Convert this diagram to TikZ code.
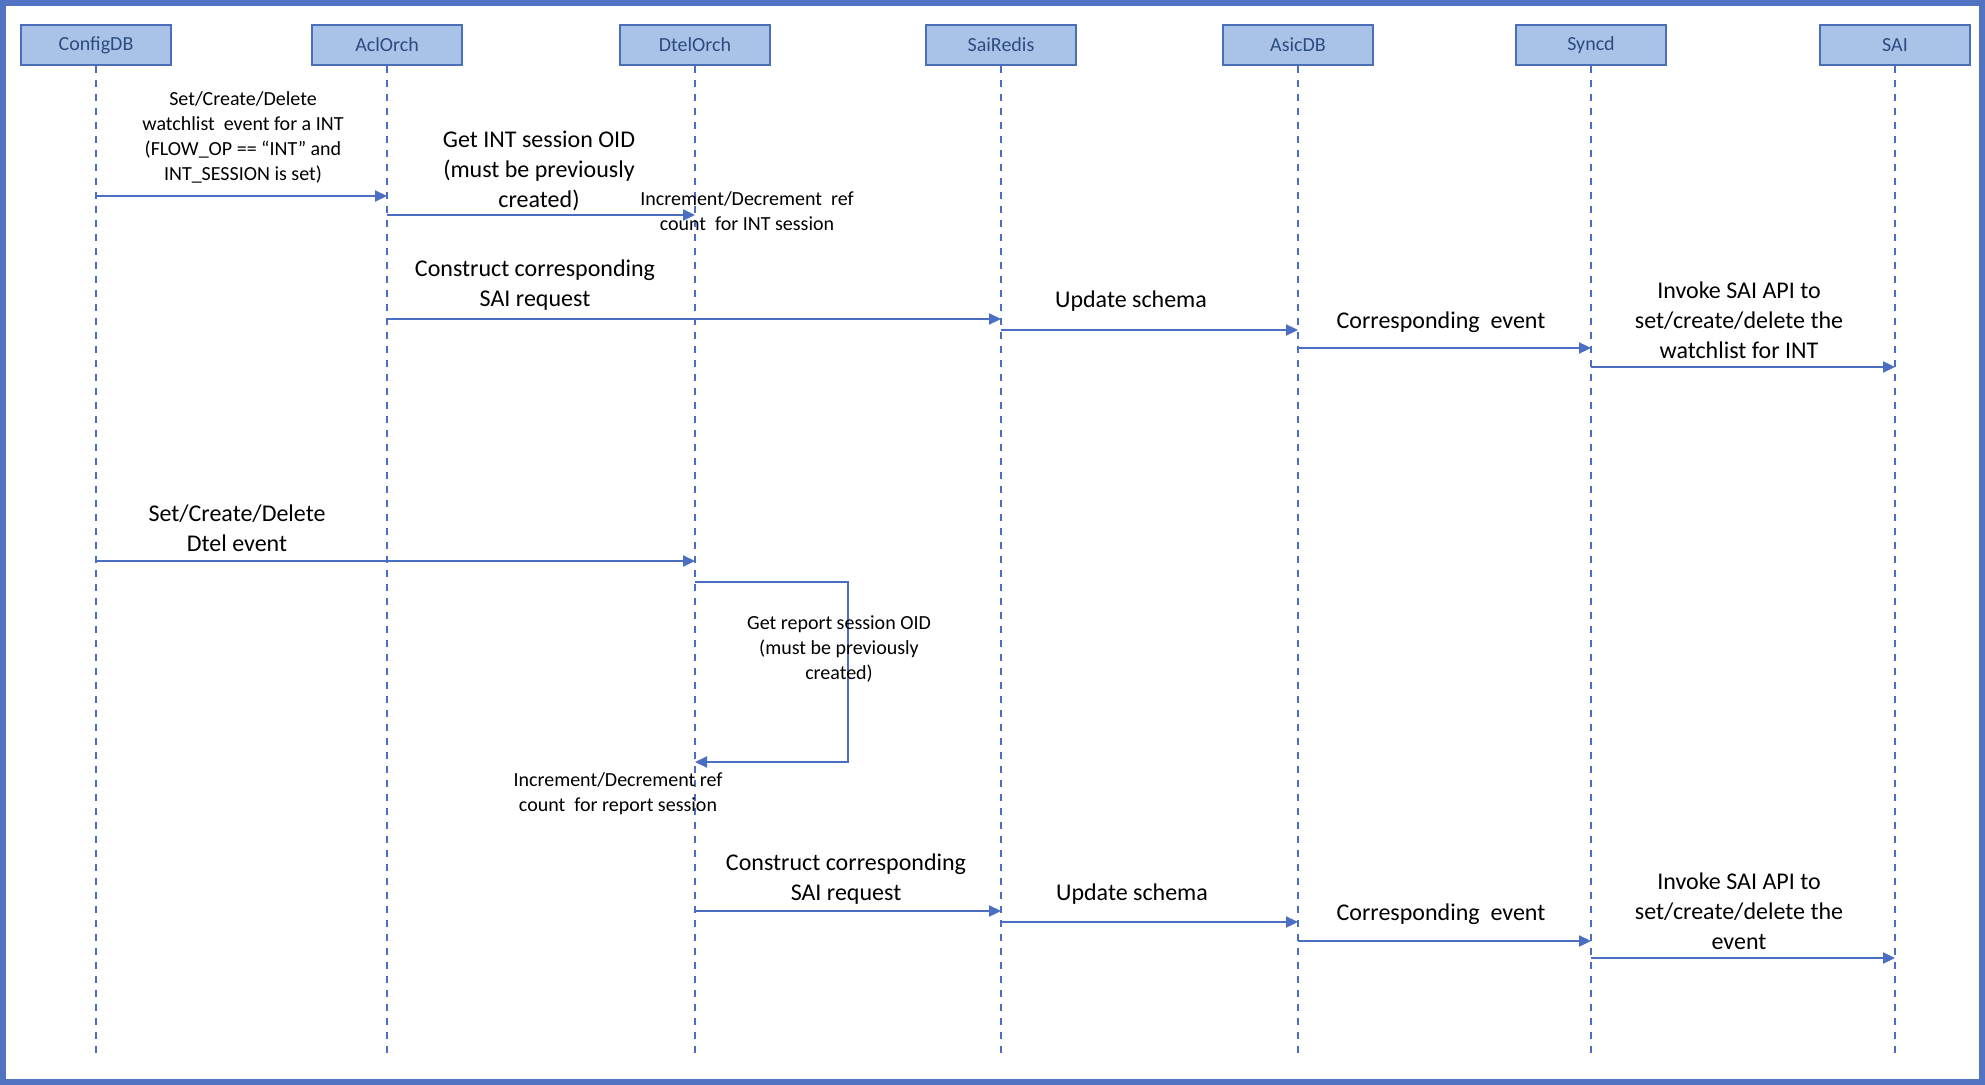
\documentclass[tikz,border=0pt]{standalone}
\usepackage{fontspec}
\setmainfont{Carlito}
\usetikzlibrary{arrows.meta}
\definecolor{frameblue}{HTML}{5273C2}
\definecolor{boxfill}{HTML}{A9C3E8}
\definecolor{boxline}{HTML}{4A6EB8}
\definecolor{boxtext}{HTML}{2C4C80}
\definecolor{lineblue}{HTML}{4A6FC2}
\tikzset{
        actor/.style={draw=boxline, fill=boxfill, line width=0.8pt, minimum width=75pt, minimum height=20pt, inner sep=0pt, text=boxtext, font=\fontsize{10}{12}\selectfont},
        life/.style={draw=lineblue, line width=0.7pt, dash pattern=on 3.5pt off 3.5pt},
        msg/.style={draw=lineblue, line width=1.1pt, -{Triangle[length=6pt,width=5.5pt]}},
        small/.style={align=center, inner sep=0pt, font=\fontsize{10}{12.5}\selectfont},
        big/.style={align=center, inner sep=0pt, font=\fontsize{12}{15}\selectfont}
}
\begin{document}
\begin{tikzpicture}[x=0.5pt, y=-0.5pt]
        \useasboundingbox (0,0) rectangle (1985,1085);
        \draw[frameblue, line width=3pt] (3,3) rectangle (1982,1082);
        \node[actor] (cfg) at (96,45) {ConfigDB};
        \node[actor] (acl) at (387,45) {AclOrch};
        \node[actor] (dtel) at (695,45) {DtelOrch};
        \node[actor] (redis) at (1001,45) {SaiRedis};
        \node[actor] (asic) at (1298,45) {AsicDB};
        \node[actor] (syncd) at (1591,45) {Syncd};
        \node[actor] (sai) at (1895,45) {SAI};
        \coordinate (end) at (0,1057);
        \foreach \n in {cfg,acl,dtel,redis,asic,syncd,sai}
                \draw[life] (\n.south) -- (\n.south |- end);
        \coordinate (m1) at (0,196);
        \coordinate (m2) at (0,215);
        \coordinate (m3) at (0,319);
        \coordinate (m4) at (0,330);
        \coordinate (m5) at (0,348);
        \coordinate (m6) at (0,367);
        \coordinate (m7) at (0,561);
        \coordinate (m8a) at (848,582);
        \coordinate (m8b) at (848,762);
        \coordinate (m9) at (0,911);
        \coordinate (m10) at (0,922);
        \coordinate (m11) at (0,941);
        \coordinate (m12) at (0,958);
        \draw[msg] (cfg |- m1) -- (acl |- m1);
        \draw[msg] (acl |- m2) -- (dtel |- m2);
        \draw[msg] (acl |- m3) -- (redis |- m3);
        \draw[msg] (redis |- m4) -- (asic |- m4);
        \draw[msg] (asic |- m5) -- (syncd |- m5);
        \draw[msg] (syncd |- m6) -- (sai |- m6);
        \draw[msg] (cfg |- m7) -- (dtel |- m7);
        \draw[msg] (dtel |- m8a) -- (m8a) -- (m8b) -- (dtel |- m8b);
        \draw[msg] (dtel |- m9) -- (redis |- m9);
        \draw[msg] (redis |- m10) -- (asic |- m10);
        \draw[msg] (asic |- m11) -- (syncd |- m11);
        \draw[msg] (syncd |- m12) -- (sai |- m12);
        \node[small] (l1) at (243,137) {Set/Create/Delete\\watchlist~ event for a INT\\(FLOW\_OP == “INT” and\\INT\_SESSION is set)};
        \node[big] (l2) at (539,171) {Get INT session OID\\(must be previously\\created)};
        \node[small] (l2b) at (747,211) {Increment/Decrement~ ref\\count~ for INT session};
        \node[big] (l3) at (535,285) {Construct corresponding\\SAI request};
        \node[big] (l4) at (1131,301) {Update schema};
        \node[big] (l5) at (1441,322) {Corresponding~ event};
        \node[big] (l6) at (1739,320) {Invoke SAI API to\\set/create/delete the\\watchlist for INT};
        \node[big] (l7) at (237,528) {Set/Create/Delete\\Dtel event};
        \node[small] (l8) at (839,649) {Get report session OID\\(must be previously\\created)};
        \node[small] (l8b) at (618,794) {Increment/Decrement ref\\count~ for report session};
        \node[big] (l9) at (846,879) {Construct corresponding\\SAI request};
        \node[big] (l10) at (1132,894) {Update schema};
        \node[big] (l11) at (1441,914) {Corresponding~ event};
        \node[big] (l12) at (1739,911) {Invoke SAI API to\\set/create/delete the\\event};
\end{tikzpicture}
\end{document}
